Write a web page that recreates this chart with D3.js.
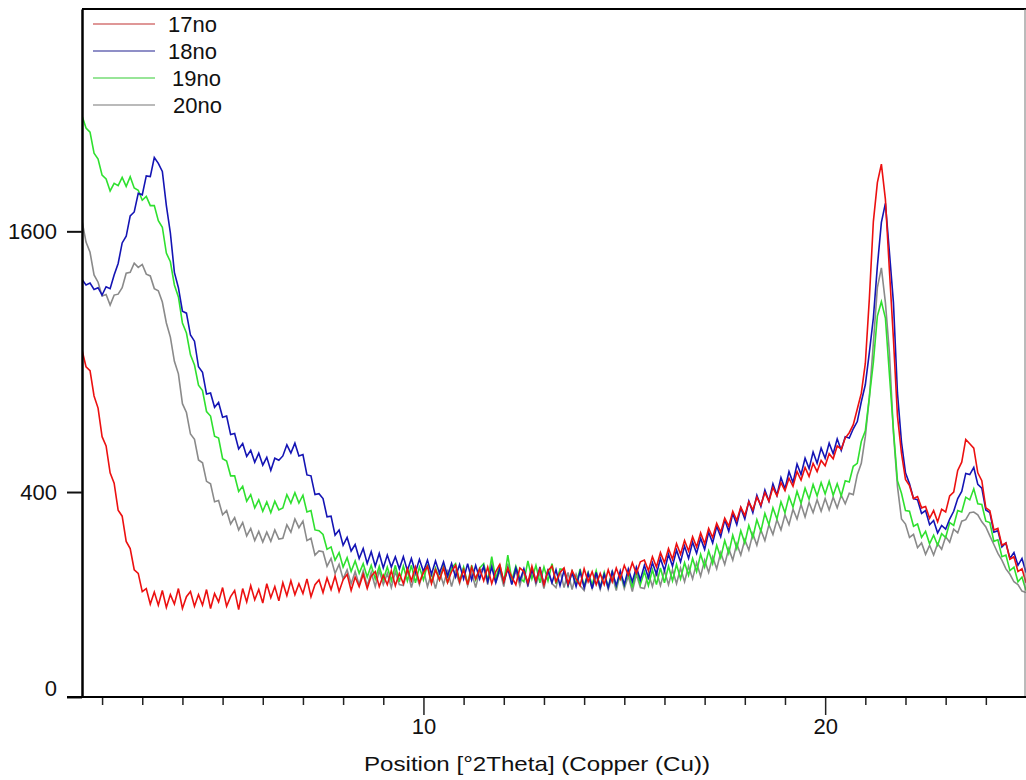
<!DOCTYPE html>
<html>
<head>
<meta charset="utf-8">
<script src="https://cdn.jsdelivr.net/npm/d3@7"></script>
<style>
  html, body { margin: 0; padding: 0; background: #fff; }
  svg { display: block; }
  text { font-family: "Liberation Sans", Arial, sans-serif; fill: #111; }
</style>
</head>
<body>
<svg id="chart" width="1026" height="780"></svg>
<script>
// ---- data (2θ grid: 1.5° to 25.0°, step 0.1°) ----
const angleStart = 1.5;
const angleStep = 0.1;
const angleCount = 236;

const seriesNames = ["17no", "18no", "19no", "20no"];

const s17 = [
  958, 880, 862, 752, 702, 590, 556, 462, 428, 345,
  328, 260, 242, 192, 184, 146, 152, 122, 145, 120,
  148, 116, 140, 122, 152, 114, 136, 146, 118, 140,
  120, 150, 114, 142, 126, 154, 118, 136, 148, 112,
  152, 126, 158, 130, 150, 124, 162, 134, 156, 128,
  164, 138, 168, 140, 162, 142, 172, 136, 160, 170,
  144, 174, 150, 178, 146, 170, 182, 148, 176, 156,
  182, 152, 178, 188, 156, 180, 160, 190, 158, 184,
  162, 194, 168, 198, 164, 186, 200, 162, 192, 170,
  196, 164, 188, 202, 166, 192, 160, 198, 172, 194,
  168, 198, 162, 188, 204, 166, 196, 176, 160, 196,
  188, 164, 200, 168, 194, 160, 190, 200, 166, 186,
  196, 162, 190, 172, 158, 194, 166, 188, 160, 184,
  160, 192, 166, 196, 172, 202, 180, 208, 184, 210,
  214, 190, 222, 198, 232, 208, 242, 216, 254, 228,
  262, 236, 272, 246, 282, 254, 294, 270, 308, 284,
  322, 300, 342, 316, 354, 330, 370, 346, 384, 360,
  398, 372, 414, 388, 430, 404, 444, 418, 466, 438,
  480, 450, 494, 466, 504, 486, 528, 510, 556, 544,
  585, 605, 636, 698, 764, 895, 1215, 1660, 1910, 2035,
  1800, 1370, 1010, 670, 530, 440, 420, 380, 386, 352,
  356, 322, 344, 312, 348, 340, 388, 400, 470, 498,
  580, 564, 548, 462, 436, 352, 344, 290, 294, 250,
  256, 216, 222, 188, 194, 164
];

const s18 = [
  1320, 1290, 1300, 1265, 1275, 1235, 1280, 1270, 1345, 1410,
  1530, 1570, 1695, 1720, 1840, 1830, 1955, 1950, 2080, 2040,
  1985, 1760, 1590, 1360, 1275, 1150, 1140, 1030, 1000, 880,
  855, 760, 765, 705, 725, 665, 670, 598, 602, 545,
  565, 518, 540, 498, 530, 488, 515, 470, 512, 505,
  520, 560, 530, 566, 520, 525, 455, 452, 392, 395,
  380, 326, 328, 276, 290, 250, 270, 236, 252, 218,
  242, 206, 234, 200, 230, 196, 226, 198, 222, 194,
  222, 190, 218, 186, 216, 188, 214, 182, 212, 184,
  210, 178, 206, 176, 204, 172, 206, 170, 202, 172,
  200, 166, 198, 164, 196, 166, 194, 160, 196, 168,
  194, 160, 192, 166, 198, 160, 190, 164, 192, 158,
  190, 158, 186, 156, 188, 154, 184, 152, 186, 154,
  182, 154, 188, 158, 190, 160, 194, 166, 198, 170,
  202, 174, 208, 182, 218, 190, 228, 200, 238, 210,
  248, 218, 258, 230, 268, 240, 284, 256, 300, 272,
  318, 286, 336, 304, 352, 320, 372, 338, 390, 356,
  406, 372, 426, 390, 446, 410, 466, 430, 492, 456,
  512, 476, 534, 494, 548, 512, 566, 528, 582, 540,
  590, 585, 620, 648, 728, 800, 945, 1115, 1395, 1655,
  1775, 1475, 1195, 765, 570, 462, 426, 380, 376, 336,
  344, 304, 316, 282, 302, 292, 320, 342, 380, 402,
  460, 456, 480, 424, 412, 346, 338, 284, 288, 246,
  256, 218, 232, 202, 218, 186
];

const s19 = [
  2380, 2290, 2260, 2110, 2070, 1960, 1935, 1855, 1905, 1890,
  1945, 1885, 1950, 1875, 1860, 1795, 1820, 1760, 1760, 1665,
  1625, 1470, 1420, 1290, 1225, 1090, 1040, 935, 888, 798,
  775, 688, 670, 592, 585, 510, 502, 452, 452, 402,
  418, 372, 392, 352, 376, 342, 370, 338, 372, 346,
  352, 392, 366, 398, 366, 390, 340, 344, 290, 288,
  278, 240, 246, 214, 232, 198, 220, 188, 212, 184,
  206, 176, 202, 172, 200, 170, 198, 168, 202, 166,
  200, 168, 202, 164, 198, 170, 204, 164, 196, 170,
  200, 164, 196, 206, 168, 198, 162, 202, 170, 196,
  206, 168, 222, 172, 204, 164, 226, 170, 200, 174,
  166, 212, 172, 202, 164, 198, 168, 206, 162, 194,
  192, 158, 188, 160, 194, 156, 186, 160, 190, 154,
  186, 154, 190, 156, 184, 158, 188, 154, 192, 160,
  188, 158, 192, 160, 196, 164, 200, 168, 204, 172,
  208, 180, 218, 188, 228, 198, 236, 206, 250, 220,
  262, 230, 276, 242, 288, 256, 302, 270, 318, 286,
  336, 304, 352, 320, 370, 338, 386, 354, 402, 366,
  412, 378, 424, 388, 430, 394, 434, 390, 426, 388,
  436, 432, 484, 494, 572, 612, 746, 900, 1125, 1200,
  1115, 845, 615, 436, 396, 344, 342, 300, 306, 270,
  286, 254, 276, 250, 280, 270, 310, 302, 344, 340,
  384, 376, 410, 364, 362, 314, 310, 260, 264, 222,
  226, 190, 198, 166, 176, 148
];

const s20 = [
  1665, 1535, 1475, 1345, 1305, 1230, 1238, 1182, 1235, 1240,
  1275, 1355, 1360, 1412, 1388, 1405, 1350, 1340, 1270, 1258,
  1198, 1090, 1020, 905, 848, 720, 684, 600, 580, 506,
  496, 434, 426, 370, 374, 332, 344, 306, 324, 290,
  310, 274, 294, 262, 286, 258, 284, 260, 290, 266,
  268, 304, 284, 320, 296, 314, 262, 268, 226, 236,
  234, 200, 218, 184, 204, 172, 192, 162, 188, 160,
  190, 158, 186, 156, 190, 160, 184, 154, 188, 160,
  158, 190, 154, 186, 160, 192, 156, 184, 152, 188,
  160, 192, 156, 188, 162, 196, 158, 186, 154, 190,
  196, 160, 212, 164, 190, 156, 206, 162, 190, 158,
  190, 156, 198, 160, 186, 152, 194, 162, 154, 190,
  154, 186, 150, 182, 158, 148, 184, 152, 180, 150,
  182, 150, 180, 148, 184, 152, 178, 146, 182, 154,
  152, 184, 156, 188, 158, 190, 160, 192, 162, 196,
  166, 200, 172, 208, 178, 214, 186, 222, 194, 232,
  204, 242, 214, 254, 226, 264, 238, 280, 250, 290,
  262, 304, 278, 318, 290, 332, 304, 348, 320, 362,
  326, 368, 338, 376, 342, 380, 346, 384, 352, 390,
  364, 396, 392, 456, 494, 590, 745, 990, 1275, 1385,
  1195, 945, 605, 418, 320, 306, 270, 278, 244, 256,
  228, 250, 226, 254, 240, 272, 258, 292, 282, 314,
  318, 338, 340, 332, 312, 298, 274, 252, 230, 214,
  194, 182, 166, 160, 147, 144
];

const yTickValues = [0, 400, 1600];
const xMajorTicks = [10, 20];
const xMinorTicks = [2,3,4,5,6,7,8,9,11,12,13,14,15,16,17,18,19,21,22,23,24];
const xTitle = "Position [°2Theta] (Copper (Cu))";

// ---- layout ----
const svg = d3.select("#chart");
const mLeft = 82, mRight = 1026, mTop = 9, mBottom = 697;
const Y_OFFSET = 27; // square-root intensity axis with small base offset

const x = d3.scaleLinear().domain([1.5, 25]).range([mLeft, mRight]);
const yS = d3.scaleSqrt().domain([Y_OFFSET, 3262]).range([mBottom, mTop]);
const y = v => yS(v + Y_OFFSET);

const angles = d3.range(angleCount).map(i => +(angleStart + i * angleStep).toFixed(1));

const series = [
  { name: "20no", values: s20, color: "#8a8a8a" },
  { name: "19no", values: s19, color: "#2fe02f" },
  { name: "18no", values: s18, color: "#1414b4" },
  { name: "17no", values: s17, color: "#ec1010" }
];

svg.append("clipPath").attr("id", "plotclip")
  .append("rect").attr("x", mLeft).attr("y", mTop).attr("width", mRight - mLeft).attr("height", mBottom - mTop);

const line = d3.line().x((d, i) => x(angles[i])).y(d => y(d));

svg.append("g").attr("clip-path", "url(#plotclip)")
  .selectAll("path").data(series).join("path")
  .attr("fill", "none")
  .attr("stroke", d => d.color)
  .attr("stroke-width", 1.6)
  .attr("stroke-linejoin", "miter")
  .attr("d", d => line(d.values));

// ---- frame ----
svg.append("line").attr("x1", mLeft).attr("x2", mRight).attr("y1", mTop).attr("y2", mTop)
  .attr("stroke", "#000").attr("stroke-width", 2);
svg.append("line").attr("x1", mRight - 1).attr("x2", mRight - 1).attr("y1", mTop).attr("y2", mBottom)
  .attr("stroke", "#777").attr("stroke-width", 1);

// ---- y axis ----
const yAxis = d3.axisLeft(yS)
  .tickValues(yTickValues.map(v => v + Y_OFFSET))
  .tickFormat(d => String(d - Y_OFFSET))
  .tickSize(15).tickPadding(10).tickSizeOuter(0);
const gy = svg.append("g").attr("transform", `translate(${mLeft},0)`).call(yAxis);
gy.select(".domain").attr("stroke", "#000").attr("stroke-width", 2.5);
gy.selectAll(".tick line").attr("stroke", "#111").attr("stroke-width", 2);
gy.selectAll(".tick text").attr("font-size", 22).attr("font-family", "Liberation Sans, Arial, sans-serif")
  .attr("fill", "#111")
  .attr("dy", d => (d - Y_OFFSET) === 0 ? "-0.05em" : "0.32em");

// ---- x axis ----
const gxMinor = svg.append("g").attr("transform", `translate(0,${mBottom})`)
  .call(d3.axisBottom(x).tickValues(xMinorTicks).tickFormat("").tickSize(8).tickSizeOuter(0));
gxMinor.select(".domain").remove();
gxMinor.selectAll(".tick line").attr("stroke", "#222").attr("stroke-width", 1.5);

const gx = svg.append("g").attr("transform", `translate(0,${mBottom})`)
  .call(d3.axisBottom(x).tickValues(xMajorTicks).tickFormat(d3.format("d")).tickSize(18).tickPadding(3).tickSizeOuter(0));
gx.select(".domain").remove();
gx.selectAll(".tick line").attr("stroke", "#222").attr("stroke-width", 1.5);
gx.selectAll(".tick text").attr("font-size", 22).attr("font-family", "Liberation Sans, Arial, sans-serif").attr("fill", "#111");

// baseline (extends left to the 0 tick)
svg.append("line").attr("x1", mLeft - 15).attr("x2", mRight).attr("y1", mBottom).attr("y2", mBottom)
  .attr("stroke", "#000").attr("stroke-width", 2);

svg.append("text").attr("x", 537).attr("y", 771)
  .attr("text-anchor", "middle").attr("font-size", 21)
  .attr("textLength", 346).attr("lengthAdjust", "spacingAndGlyphs")
  .text(xTitle);

// ---- legend ----
const legendOrder = [
  { name: "17no", color: "#c03030", tx: 168 },
  { name: "18no", color: "#202090", tx: 168 },
  { name: "19no", color: "#33cc33", tx: 172 },
  { name: "20no", color: "#777777", tx: 173 }
];
const legendY = [24, 51, 78, 105];
const lg = svg.append("g");
legendOrder.forEach((d, i) => {
  lg.append("line").attr("x1", 93).attr("x2", 155).attr("y1", legendY[i]).attr("y2", legendY[i])
    .attr("stroke", d.color).attr("stroke-width", 1.2);
  lg.append("text").attr("x", d.tx).attr("y", legendY[i]).attr("dy", "0.36em")
    .attr("font-size", 22).text(d.name);
});
</script>
</body>
</html>
